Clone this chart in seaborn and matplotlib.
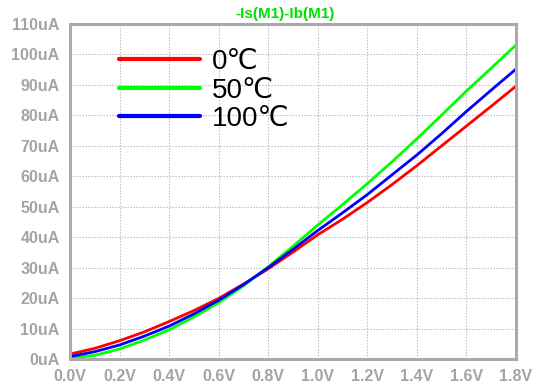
import numpy as np
import pandas as pd
import matplotlib
matplotlib.use("Agg")
import matplotlib.pyplot as plt
import seaborn as sns
from matplotlib.ticker import MultipleLocator, FuncFormatter

voltage = [0.0, 0.1, 0.2, 0.3, 0.4, 0.5, 0.6, 0.7, 0.8, 0.9,
           1.0, 1.1, 1.2, 1.3, 1.4, 1.5, 1.6, 1.7, 1.8]
i_0c = [1.6, 3.5, 6.0, 8.9, 12.3, 15.9, 19.9, 24.6, 29.6, 35.1,
        40.8, 45.9, 51.4, 57.3, 63.5, 70.0, 76.5, 83.0, 89.6]
i_50c = [0.3, 1.2, 3.3, 6.2, 9.6, 13.8, 18.5, 24.0, 30.3, 37.0,
         44.0, 50.7, 57.6, 64.8, 72.3, 80.1, 88.0, 95.5, 103.1]
i_100c = [0.8, 2.4, 4.6, 7.5, 10.8, 14.8, 19.3, 24.4, 30.0, 36.0,
          42.2, 48.0, 54.0, 60.5, 67.0, 74.0, 81.3, 88.3, 95.2]
labels = ["0℃", "50℃", "100℃"]
colors = ["#ff0000", "#00ff00", "#0000ff"]
title = "-Is(M1)-Ib(M1)"

df = pd.concat([
    pd.DataFrame({"V": voltage, "I": i_0c, "T": labels[0]}),
    pd.DataFrame({"V": voltage, "I": i_50c, "T": labels[1]}),
    pd.DataFrame({"V": voltage, "I": i_100c, "T": labels[2]}),
])

sns.set_style("white")
plt.rcParams['font.family'] = ['Liberation Sans', 'DejaVu Sans']

fig = plt.figure(figsize=(5.38, 3.90), dpi=100)
ax = fig.add_axes([70/538, 1-359/390, 446/538, 335/390])

sns.lineplot(data=df, x="V", y="I", hue="T", palette=colors, linewidth=2.0,
             ax=ax, legend=True)

ax.set_xlim(0, 1.8)
ax.set_ylim(0, 110)
ax.xaxis.set_major_locator(MultipleLocator(0.2))
ax.yaxis.set_major_locator(MultipleLocator(10))
ax.xaxis.set_major_formatter(FuncFormatter(lambda v, p: f"{v:.1f}V"))
ax.yaxis.set_major_formatter(FuncFormatter(lambda v, p: f"{v:.0f}uA"))
ax.set_xlabel("")
ax.set_ylabel("")

gray = "#aaaaaa"
for s in ax.spines.values():
    s.set_color(gray)
    s.set_linewidth(2.2)
ax.tick_params(axis="both", colors=gray, length=6, width=2.0, direction="out",
               labelsize=11.5, pad=1.5)
ax.grid(True, color="#b8b8b8", linestyle=(0, (1.2, 1.5)), linewidth=0.8)

leg = ax.legend(loc="upper left", bbox_to_anchor=(0.085, 0.958), frameon=False,
                fontsize=20, handlelength=2.9, handletextpad=0.45,
                labelspacing=0.08, borderaxespad=0)
for line in leg.get_lines():
    line.set_linewidth(3.0)
for t in leg.get_texts():
    t.set_color("black")

fig.text(285/538, 1-14/390, title, color="#00e000", fontsize=11,
         fontweight="bold", ha="center", va="center")

fig.canvas.draw()
for lbl in ax.get_xticklabels() + ax.get_yticklabels():
    lbl.set_fontweight("bold")
    lbl.set_color("#a4a4a4")

fig.savefig("out.png", dpi=100)
